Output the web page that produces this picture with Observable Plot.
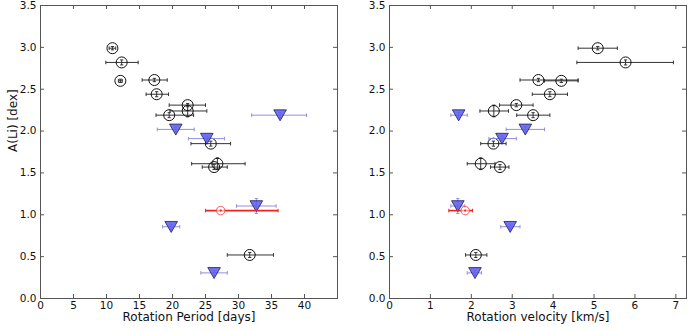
<!DOCTYPE html>
<html><head><meta charset="utf-8">
<script src="https://cdn.jsdelivr.net/npm/d3@7"></script>
<script src="https://cdn.jsdelivr.net/npm/@observablehq/plot@0.6"></script>
<style>
body{margin:0;background:#fff;}
#chart{display:flex;width:689px;height:332px;}
#chart svg{display:block;}
</style></head><body><div id="chart"></div>
<script>
// ---- Detections (open circles) ----
const detALi   = [2.99, 2.82, 2.60, 2.61, 2.44, 2.31, 2.24, 2.19, 1.85, 1.61, 1.57, 0.52];
const detALiErr= [0.02, 0.03, 0.02, 0.02, 0.03, 0.02, 0.07, 0.03, 0.03, 0.07, 0.03, 0.03];
const detP     = [10.9, 12.3, 12.1, 17.25, 17.6, 22.3, 22.3, 19.5, 25.8, 26.8, 26.3, 31.7];
const detPLo   = [10.4, 9.9, 11.8, 15.4, 16.0, 19.5, 19.6, 17.5, 22.8, 22.9, 24.5, 28.3];
const detPHi   = [11.4, 14.8, 12.4, 19.2, 19.4, 25.0, 25.2, 23.2, 28.8, 31.0, 28.3, 35.3];
const detV     = [5.09, 5.77, 4.20, 3.64, 3.92, 3.10, 2.55, 3.51, 2.54, 2.23, 2.70, 2.11];
const detVLo   = [4.61, 4.58, 3.79, 3.19, 3.49, 2.69, 2.21, 3.11, 2.23, 1.90, 2.47, 1.86];
const detVHi   = [5.57, 6.94, 4.61, 4.61, 4.35, 3.51, 2.91, 3.92, 2.85, 2.58, 2.92, 2.38];

// ---- Upper limits (blue down-triangles) ----
const limALi   = [2.19, 2.02, 1.91, 1.105, 0.857, 0.306];
const limALiErr= [0.03, 0.03, 0.03, 0.09, 0.03, 0.03];
const limP     = [36.3, 20.5, 25.2, 32.7, 19.8, 26.3];
const limPLo   = [32.0, 17.7, 22.4, 29.7, 18.5, 24.3];
const limPHi   = [40.3, 23.3, 27.9, 35.7, 21.1, 28.3];
const limV     = [1.69, 3.32, 2.75, 1.67, 2.95, 2.09];
const limVLo   = [1.50, 2.85, 2.43, 1.50, 2.72, 1.90];
const limVHi   = [1.90, 3.79, 3.10, 1.84, 3.19, 2.25];

// ---- Sun (red) ----
const sunALi = [1.05];
const sunP = [27.3], sunPLo = [25.0], sunPHi = [36.0];
const sunV = [1.85], sunVLo = [1.45], sunVHi = [2.03];

// ---- Axes ----
const yTicks = [0, 0.5, 1.0, 1.5, 2.0, 2.5, 3.0, 3.5];
const pTicks = [0, 5, 10, 15, 20, 25, 30, 35, 40];
const vTicks = [0, 1, 2, 3, 4, 5, 6, 7];
const pDomain = [0, 45];
const vDomain = [0, 7.26];
const yDomain = [0, 3.5];
const yLabel = "A(Li) [dex]";
const pLabel = "Rotation Period [days]";
const vLabel = "Rotation velocity [km/s]";

function rows(y, yerr, x, xlo, xhi) {
  return y.map((v, i) => ({y: v, ye: yerr ? yerr[i] : 0, x: x[i], xlo: xlo[i], xhi: xhi[i]}));
}

const downTri = {draw(ctx, size) {const r = Math.sqrt(size / Math.PI);
  ctx.moveTo(-r, -0.84 * r); ctx.lineTo(r, -0.84 * r); ctx.lineTo(0, 0.9 * r); ctx.closePath();}};
const vCap = {draw(ctx, size) {const r = Math.sqrt(size / Math.PI); ctx.moveTo(0, -r); ctx.lineTo(0, r);}};
const hCap = {draw(ctx, size) {const r = Math.sqrt(size / Math.PI); ctx.moveTo(-r, 0); ctx.lineTo(r, 0);}};

function errMarks(data, color, sw, withY) {
  const m = [
    Plot.link(data, {x1: "xlo", x2: "xhi", y1: "y", y2: "y", stroke: color, strokeWidth: sw}),
    Plot.dot(data, {x: "xlo", y: "y", symbol: vCap, r: 1.8, stroke: color, strokeWidth: 1}),
    Plot.dot(data, {x: "xhi", y: "y", symbol: vCap, r: 1.8, stroke: color, strokeWidth: 1})
  ];
  if (withY) {
    m.push(Plot.link(data, {x1: "x", x2: "x", y1: d => d.y - d.ye, y2: d => d.y + d.ye, stroke: color, strokeWidth: 1}));
    m.push(Plot.dot(data, {x: "x", y: d => d.y - d.ye, symbol: hCap, r: 1.6, stroke: color, strokeWidth: 1}));
    m.push(Plot.dot(data, {x: "x", y: d => d.y + d.ye, symbol: hCap, r: 1.6, stroke: color, strokeWidth: 1}));
  }
  return m;
}

function panel(opts) {
  const {width, ml, mr, xDomain, xTicks, xLabel, det, lim, sun, showYLabel} = opts;
  const mt = 5, mb = 34, H = 332 - mt - mb, W = width - ml - mr;
  const frameColor = "#555";
  const marks = [
    Plot.frame({stroke: frameColor, strokeWidth: 1}),
    Plot.tickX(xTicks, {x: d => d, insetTop: H - 4, stroke: frameColor}),
    Plot.tickX(xTicks, {x: d => d, insetBottom: H - 4, stroke: frameColor}),
    Plot.tickY(yTicks, {y: d => d, insetRight: W - 4, stroke: frameColor}),
    Plot.tickY(yTicks, {y: d => d, insetLeft: W - 4, stroke: frameColor}),
    Plot.axisX({ticks: xTicks, tickSize: 0, tickPadding: 3, label: null, tickFormat: d => String(d), fill: "#111"}),
    Plot.axisY({ticks: yTicks, tickSize: 0, tickPadding: 4, label: null, tickFormat: d3.format(".1f"), fill: "#111"}),
    Plot.text([xLabel], {frameAnchor: "bottom", dy: 22, fontSize: 12, fill: "#111"}),
    ...errMarks(det, "#333", 1, true),
    Plot.dot(det, {x: "x", y: "y", r: 5.5, stroke: "#111", strokeWidth: 1, fill: "none"}),
    ...errMarks(lim, "#8f8fe0", 1, true),
    Plot.dot(lim, {x: "x", y: "y", symbol: downTri, r: 6.3, fill: "#5a5af0", fillOpacity: 0.85, stroke: "#1c1c5e", strokeWidth: 0.8}),
    ...errMarks(sun, "#ee2222", 1.6, false),
    Plot.dot(sun, {x: "x", y: "y", r: 4.2, stroke: "#ff4444", strokeWidth: 0.9, fill: "white", fillOpacity: 0.6}),
    Plot.dot(sun, {x: "x", y: "y", r: 1.1, fill: "#ee2222", stroke: "none"})
  ];
  if (showYLabel) {
    marks.push(Plot.text([yLabel], {frameAnchor: "left", dx: -27, rotate: -90, fontSize: 12, fill: "#111"}));
  }
  return Plot.plot({
    width, height: 332,
    marginLeft: ml, marginRight: mr, marginTop: mt, marginBottom: mb,
    style: {fontFamily: "DejaVu Sans", fontSize: "10.5px", background: "white", color: "#111", overflow: "visible"},
    x: {domain: xDomain},
    y: {domain: yDomain},
    marks
  });
}

const chart = document.getElementById("chart");
chart.append(panel({
  width: 345, ml: 40, mr: 8, xDomain: pDomain, xTicks: pTicks, xLabel: pLabel, showYLabel: true,
  det: rows(detALi, detALiErr, detP, detPLo, detPHi),
  lim: rows(limALi, limALiErr, limP, limPLo, limPHi),
  sun: rows(sunALi, null, sunP, sunPLo, sunPHi)
}));
chart.append(panel({
  width: 344, ml: 44, mr: 3, xDomain: vDomain, xTicks: vTicks, xLabel: vLabel, showYLabel: false,
  det: rows(detALi, detALiErr, detV, detVLo, detVHi),
  lim: rows(limALi, limALiErr, limV, limVLo, limVHi),
  sun: rows(sunALi, null, sunV, sunVLo, sunVHi)
}));
</script></body></html>
